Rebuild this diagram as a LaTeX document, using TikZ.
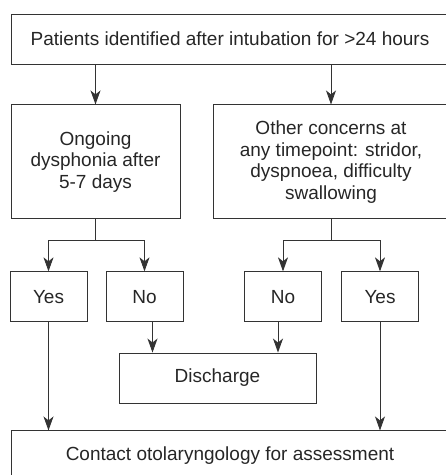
\documentclass[tikz,border=0pt]{standalone}
\usepackage{fontspec}
\setmainfont{Liberation Sans}
\usepackage{tikz}
\usetikzlibrary{positioning,arrows.meta}

\begin{document}
\begin{tikzpicture}[
    x=1pt, y=-1pt,
    font=\fontsize{19}{21.5}\selectfont,
    >={Stealth[length=14pt,width=10pt,inset=4pt]},
    link/.style={draw=black!80, line width=0.9pt, ->},
    block/.style={draw=black!80, line width=0.9pt, rectangle, align=center, inner sep=0pt, text=black!85},
    wideblock/.style={block, minimum width=438pt, minimum height=50pt},
    smallblock/.style={block, minimum width=77pt, minimum height=50pt}
]
\useasboundingbox (0,0) rectangle (446,475);
\clip (0,0) rectangle (446,475);

% start
\node[wideblock] (start) at (230,39) {Patients identified after intubation for >24 hours};

% two questions
\node[block, minimum width=169pt, minimum height=114pt, below=40pt of start.south west, anchor=north west] (ongoing) {Ongoing\\dysphonia after\\5-7 days};
\node[block, minimum width=236pt, minimum height=114pt, below=40pt of start.south east, anchor=north east] (concerns) {Other concerns at\\any timepoint: stridor,\\dyspnoea, difficulty\\swallowing};

% answers
\node[smallblock, below=52pt of ongoing.south, xshift=-47pt] (yesA) {Yes};
\node[smallblock, below=52pt of ongoing.south, xshift=49pt] (noA) {No};
\node[smallblock, below=52pt of concerns.south, xshift=-48pt] (noB) {No};
\node[smallblock, below=52pt of concerns.south, xshift=49pt] (yesB) {Yes};

% outcomes
\node[block, minimum width=197pt, minimum height=50pt] (discharge) at (217.5,378) {Discharge};
\node[wideblock, below=366pt of start] (contact) {Contact otolaryngology for assessment};

% arrows
\draw[link] (start.south -| ongoing.north) -- (ongoing.north);
\draw[link] (start.south -| concerns.north) -- (concerns.north);

\draw[link] (ongoing.south) -- ++(0,21) -| (yesA.north);
\draw[link] (ongoing.south) -- ++(0,21) -| (noA.north);
\draw[link] (concerns.south) -- ++(0,21) -| (noB.north);
\draw[link] (concerns.south) -- ++(0,21) -| (yesB.north);

\draw[link] ([xshift=8pt]noA.south) -- ([xshift=8pt]noA.south |- discharge.north);
\draw[link] ([xshift=-5pt]noB.south) -- ([xshift=-5pt]noB.south |- discharge.north);

\draw[link] (yesA.south) -- (yesA.south |- contact.north);
\draw[link] (yesB.south) -- (yesB.south |- contact.north);

\end{tikzpicture}
\end{document}
